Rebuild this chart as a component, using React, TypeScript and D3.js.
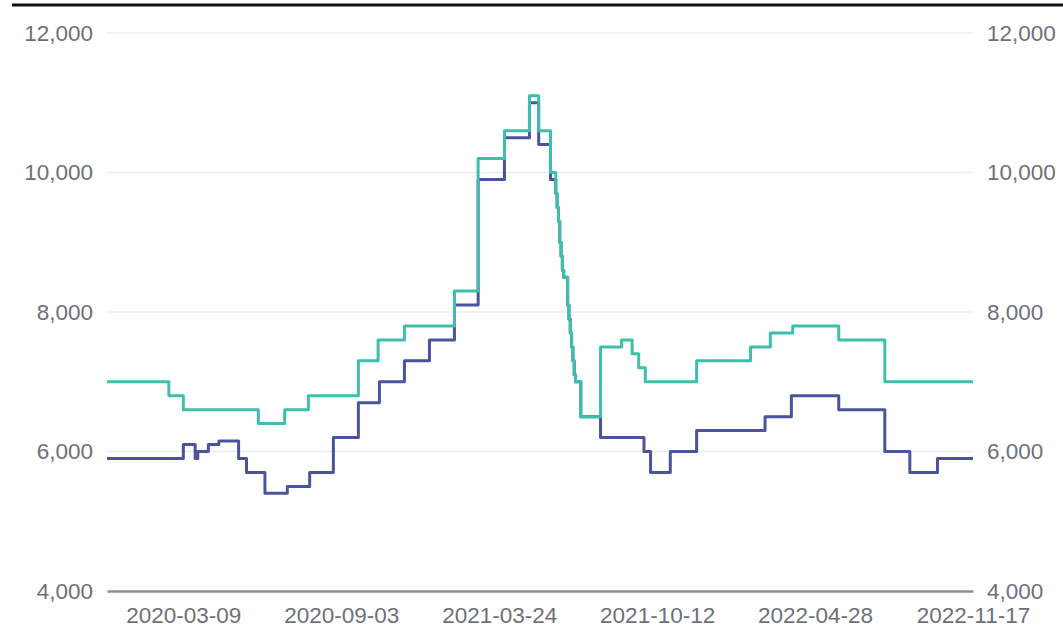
import React, { useEffect, useRef } from "react";
import * as d3 from "d3";

const WIDTH = 1063;
const HEIGHT = 637;

// x is a category index (trading-day position); labels every 120 categories
const LAST_INDEX = 658;
const xTickIndex = [58, 178, 298, 418, 538, 658];
const xTickLabels = ["2020-03-09", "2020-09-03", "2021-03-24", "2021-10-12", "2022-04-28", "2022-11-17"];
const yTicks = [4000, 6000, 8000, 10000, 12000];

// step change points: [category index, value]
const blueSteps: [number, number][] = [
  [0, 5900], [58, 6100], [67, 5900], [69, 6000], [77, 6100], [85, 6150], [100, 5900],
  [106, 5700], [120, 5400], [137, 5500], [154, 5700], [172, 6200], [191, 6700],
  [207, 7000], [226, 7300], [245, 7600], [264, 8100], [282, 9900], [302, 10500],
  [321, 11000], [328, 10400], [337, 9900], [341, 9700], [342, 9500], [343, 9300],
  [344, 9000], [345, 8800], [346, 8600], [347, 8500], [350, 8100], [351, 7900],
  [352, 7700], [353, 7500], [354, 7300], [355, 7100], [356, 7000], [360, 6500],
  [375, 6200], [408, 6000], [413, 5700], [428, 6000], [448, 6300], [500, 6500],
  [520, 6800], [556, 6600], [591, 6000], [610, 5700], [631, 5900],
];

const tealSteps: [number, number][] = [
  [0, 7000], [47, 6800], [58, 6600], [115, 6400], [135, 6600], [153, 6800],
  [191, 7300], [206, 7600], [226, 7800], [264, 8300], [282, 10200], [302, 10600],
  [321, 11100], [328, 10600], [337, 10000], [341, 9700], [342, 9500], [343, 9300],
  [344, 9000], [345, 8800], [346, 8600], [347, 8500], [350, 8100], [351, 7900],
  [352, 7700], [353, 7500], [354, 7300], [355, 7100], [356, 7000], [360, 6500],
  [375, 7500], [391, 7600], [399, 7400], [404, 7200], [409, 7000], [448, 7300],
  [489, 7500], [504, 7700], [521, 7800], [556, 7600], [591, 7000],
];

const PLOT_LEFT = 107;
const PLOT_RIGHT = 973;
const PLOT_TOP = 33;
const PLOT_BOTTOM = 591;

const FONT = "'Liberation Sans', Arial, sans-serif";
const LABEL_COLOR = "#6e7079";

export default function App() {
  const xAxisRef = useRef<SVGGElement>(null);
  const yLeftRef = useRef<SVGGElement>(null);
  const yRightRef = useRef<SVGGElement>(null);

  const x = d3.scaleLinear().domain([0, LAST_INDEX]).range([PLOT_LEFT, PLOT_RIGHT]);
  const y = d3.scaleLinear().domain([4000, 12000]).range([PLOT_BOTTOM, PLOT_TOP]);

  const line = d3
    .line<[number, number]>()
    .x((d) => x(d[0]))
    .y((d) => y(d[1]))
    .curve(d3.curveStepAfter);

  const withEnd = (s: [number, number][]): [number, number][] => [...s, [LAST_INDEX, s[s.length - 1][1]]];

  useEffect(() => {
    const fmt = d3.format(",");
    const xa = d3
      .axisBottom(x)
      .tickValues(xTickIndex)
      .tickFormat((d, i) => xTickLabels[i])
      .tickSize(0)
      .tickPadding(16);
    const xg = d3.select(xAxisRef.current!);
    xg.call(xa as any);
    xg.select(".domain").attr("stroke", "#8c8aa9").attr("stroke-width", 2.6);
    xg.selectAll("text").attr("fill", LABEL_COLOR).style("font-family", FONT).style("font-size", "22.5px");

    const yl = d3.axisLeft(y).tickValues(yTicks).tickFormat((d) => fmt(d as number)).tickSize(0).tickPadding(14);
    const ylg = d3.select(yLeftRef.current!);
    ylg.call(yl as any);
    ylg.select(".domain").remove();
    ylg.selectAll("text").attr("fill", LABEL_COLOR).style("font-family", FONT).style("font-size", "22.5px");

    const yr = d3.axisRight(y).tickValues(yTicks).tickFormat((d) => fmt(d as number)).tickSize(0).tickPadding(14);
    const yrg = d3.select(yRightRef.current!);
    yrg.call(yr as any);
    yrg.select(".domain").remove();
    yrg.selectAll("text").attr("fill", LABEL_COLOR).style("font-family", FONT).style("font-size", "22.5px");
  }, []);

  return (
    <svg
      width={WIDTH}
      height={HEIGHT}
      style={{ position: "absolute", left: 0, top: 0, background: "#fff" }}
    >
      <line x1={12} x2={WIDTH} y1={5} y2={5} stroke="#111" strokeWidth={3} />
      {yTicks
        .filter((t) => t !== 4000)
        .map((t) => (
          <line key={t} x1={PLOT_LEFT} x2={PLOT_RIGHT} y1={y(t)} y2={y(t)} stroke="#ececf8" strokeWidth={1.5} />
        ))}
      <g ref={yLeftRef} transform={`translate(${PLOT_LEFT},0)`} />
      <g ref={yRightRef} transform={`translate(${PLOT_RIGHT},0)`} />
      <g ref={xAxisRef} transform={`translate(0,${PLOT_BOTTOM})`} />
      <path d={line(withEnd(blueSteps)) || ""} fill="none" stroke="#4a549c" strokeWidth={3} strokeLinejoin="round" />
      <path d={line(withEnd(tealSteps)) || ""} fill="none" stroke="#3dbfad" strokeWidth={3} strokeLinejoin="round" />
    </svg>
  );
}
